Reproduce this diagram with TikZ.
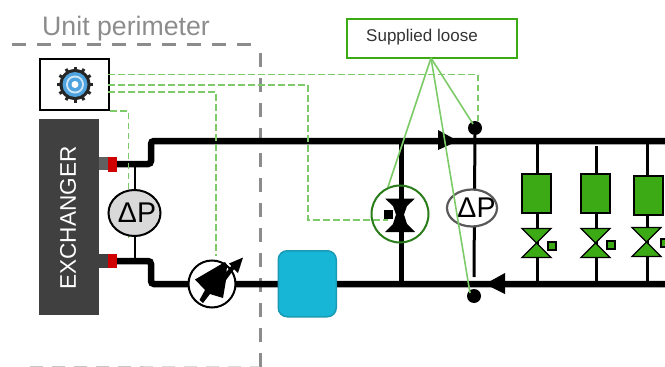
\documentclass[tikz,border=0pt]{standalone}
\usepackage{fontspec}
\setmainfont{Liberation Sans}
\definecolor{sgreen}{HTML}{3CAA14}
\definecolor{dgreen}{HTML}{2A7D1A}
\definecolor{lgreen}{HTML}{7CCB68}
\definecolor{teal}{HTML}{17B6D6}
\definecolor{tealb}{HTML}{1A9AB5}
\definecolor{perim}{HTML}{8C8C8C}
\definecolor{exch}{HTML}{404040}
\definecolor{gearblue}{HTML}{4FA3DE}
\definecolor{gearpale}{HTML}{CFE6F7}
\tikzset{
 pipe/.style={line width=6.5pt,black,rounded corners=3pt},
 branch/.style={line width=3pt,black},
 ctrl/.style={lgreen,line width=1.6pt,dash pattern=on 6.5pt off 3.5pt},
 lead/.style={lgreen,line width=1.6pt},
 perimline/.style={perim,line width=3pt,dash pattern=on 14pt off 11pt},
 dp/.style={ellipse,draw,line width=2pt,inner sep=0pt},
 dptext/.style={inner sep=0pt,font=\fontsize{28.5}{29}\selectfont},
 coil/.style={draw=black,line width=2pt,fill=sgreen,minimum width=29pt,minimum height=39pt,inner sep=0pt},
 act/.style={draw=black,line width=1.4pt,fill=sgreen,minimum size=8pt,inner sep=0pt},
 bow/.style={draw=black,line width=1.4pt,fill=sgreen,line join=miter},
}
\usetikzlibrary{shapes.geometric,calc}
\begin{document}
\begin{tikzpicture}[x=1pt,y=-1pt]
\useasboundingbox (0,0) rectangle (665,367);
% perimeter
\node[anchor=base west,text=perim,font=\fontsize{26.7}{27}\selectfont,inner sep=0pt] (unit) at (42,35) {Unit perimeter};
\coordinate (pa) at (12,44); \coordinate (pb) at (252,44);
\coordinate (pc) at (260,53); \coordinate (pd) at (260,367);
\draw[perimline] (pa) -- (pb);
\draw[perimline] (pc) -- (pd);
\coordinate (pe) at (30,366.5);
\draw[perim!50,line width=1pt,dash pattern=on 13pt off 9pt] (pe) -- (pd);
% pipes
\coordinate (t0) at (112,164); \coordinate (t1) at (151,164); \coordinate (t2) at (151,141); \coordinate (t3) at (665,141);
\coordinate (b0) at (112,261); \coordinate (b1) at (151,261); \coordinate (b2) at (151,284); \coordinate (b3) at (665,284);
\draw[pipe] (t0) -- (t1) -- (t2) -- (t3);
\draw[pipe] (b0) -- (b1) -- (b2) -- (b3);
% exchanger
\node[fill=exch,minimum width=60pt,minimum height=196pt,inner sep=0pt,anchor=north west] (ex) at (39,119) {};
\node[rotate=90,text=white,font=\fontsize{22.6}{23}\selectfont,inner sep=0pt] (extext) at (68,218) {EXCHANGER};
\fill[gray!75!black] (99,157) rectangle (108,170);
\fill[exch] (99,254) rectangle (108,268);
\node[fill={rgb,255:red,208;green,0;blue,0},minimum width=9pt,minimum height=15pt,inner sep=0pt] (r1) at (112.5,164) {};
\node[fill={rgb,255:red,208;green,0;blue,0},minimum width=9pt,minimum height=14pt,inner sep=0pt] (r2) at (112,261) {};
% green control lines (behind instruments)
\node[draw=black,line width=2pt,fill=white,minimum width=69pt,minimum height=51pt,inner sep=0pt,anchor=north west] (ctl) at (39,58) {};
\coordinate (c1a) at (108,74.5); \coordinate (c1b) at (478,74.5); \coordinate (c1c) at (478,122);
\coordinate (c2a) at (108,85); \coordinate (c2b) at (308,85); \coordinate (c2c) at (308,220); \coordinate (c2d) at (388,220);
\coordinate (c3a) at (108,92); \coordinate (c3b) at (216,92); \coordinate (c3c) at (216,256);
\coordinate (c4a) at (110,111); \coordinate (c4b) at (128.5,111); \coordinate (c4c) at (128.5,238);
\draw[ctrl] (c1a) -- (c1b) -- (c1c);
\draw[ctrl] (c2a) -- (c2b) -- (c2c) -- (c2d);
\draw[ctrl] (c3a) -- (c3b) -- (c3c);
\draw[ctrl] (c4a) -- (c4b) -- (c4c);
% gear
\foreach \a in {0,30,...,330}{\draw[black!85,line width=3pt] ($(75,84.5)+(\a:14)$) -- ($(75,84.5)+(\a:18)$);}
\fill[black!85] (75,84.5) circle (15.5);
\fill[gearblue] (75,84.5) circle (12.5);
\fill[gearpale] (75,84.5) circle (9);
\fill[gearblue] (75,84.5) circle (7);
\fill[white] (75,84.5) circle (3.5);
% dP on exchanger
\node[dp,fill=black!15,minimum width=52pt,minimum height=46pt] (dp1) at (134.5,213) {};
\node[dptext] (dp1t) at (137,212.5) {ΔP};
\draw[branch,line width=2pt] (t1 -| dp1) -- (dp1);
\draw[branch,line width=2pt] (dp1) -- (b1 -| dp1);
% pump
\node[circle,draw=black,line width=2pt,fill=white,minimum size=47pt,inner sep=0pt] (pump) at (212,284) {};
\fill[black] (225,262) -- (195,279.5) -- (205,290) -- (199.5,300) -- (203,303) -- (210,294) -- (223,298) -- (226,280) -- (227,265) -- cycle;
\fill[black] (229,263.5) -- (243,257.5) -- (238,273) -- (233,268) -- cycle;
\fill[black] (226,280) -- (235,268) -- (232,265) -- (224,275) -- cycle;
% teal tank
\node[draw=tealb,line width=1.5pt,fill=teal,rounded corners=9pt,minimum width=58pt,minimum height=66pt,inner sep=0pt,anchor=north west] (tank) at (277.5,250) {};
% valve with bypass
\coordinate (vt) at (401,141); \coordinate (vb) at (401,284);
\draw[line width=5pt] (vt) -- (vb);
\node[circle,draw=dgreen,line width=2pt,minimum size=57pt,inner sep=0pt] (vc) at (400,214) {};
\fill (385,198.5) -- (415,198.5) -- (407,206) -- (404,214.5) -- (407,224) -- (415,232) -- (385,232) -- (393,224) -- (396,214.5) -- (393,206) -- cycle;
\node[fill=black,draw=black,minimum size=8.5pt,inner sep=0pt] (va) at (388,214) {};
% dP supply
\node[circle,fill=black,minimum size=14pt,inner sep=0pt] (d1) at (475,128) {};
\node[circle,fill=black,minimum size=14pt,inner sep=0pt] (d2) at (474,296) {};
\coordinate (dpe) at (474,277);
\draw[branch] (d1) -- (dpe);
\node[dp,draw=black!65,fill=white,line width=2.2pt,minimum width=50pt,minimum height=37pt] (dp2) at (472,208) {};
\node[dptext] (dp2t) at (476.5,208) {ΔP};
% flow arrows
\fill (438,130) -- (458,141) -- (438,150) -- cycle;
\fill (505,273) -- (485,284) -- (505,294) -- cycle;
% branches
\foreach \n/\x/\ys/\yc/\yv/\sx/\sy/\cx in {a/537/141/193.5/243/552/246/536.5,b/596/146/193.5/243/611/245/595.5,c/647/141/195/242/665/243/648.5}{
 \coordinate (top\n) at (\x,\ys); \coordinate (bot\n) at (\x,284);
 \draw[branch] (top\n) -- (bot\n);
 \node[coil] (coil\n) at (\cx,\yc) {};
 \draw[bow] (\x-15,\yv-14.5) -- (\x+14,\yv-14.5) -- (\x-.5,\yv) -- cycle;
 \draw[bow] (\x-15,\yv+14.5) -- (\x+14,\yv+14.5) -- (\x-.5,\yv) -- cycle;
 \node[act] (act\n) at (\sx,\sy) {};
}
% supplied loose
\node[draw=sgreen,line width=2.2pt,fill=white,minimum width=170pt,minimum height=39pt,inner sep=0pt,anchor=north west] (sl) at (346,18) {};
\node[font=\fontsize{17}{17}\selectfont,text=black!80,inner sep=0pt] (sltext) at (422,37) {Supplied loose};
\coordinate (sp) at (431,58);
\draw[lead] (sp) -- (388,187);
\draw[lead] (sp) -- (473,124);
\draw[lead] (sp) -- (470,293);
\end{tikzpicture}
\end{document}
